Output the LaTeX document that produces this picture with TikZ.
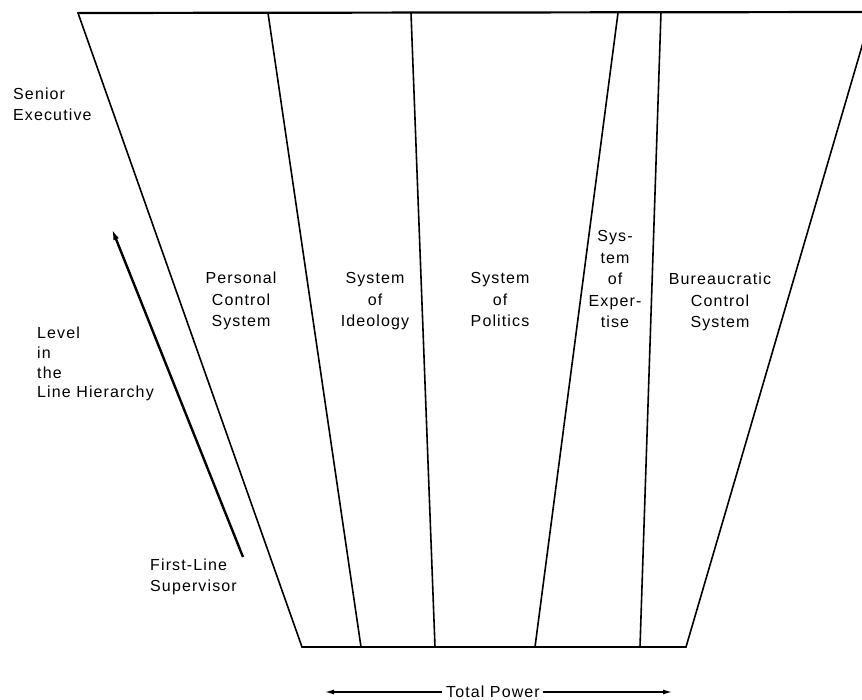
\documentclass[tikz,border=0pt]{standalone}
\usepackage{fontspec}
\setmainfont{Liberation Sans}[LetterSpace=7]
\usetikzlibrary{arrows.meta}
\begin{document}
\begin{tikzpicture}[x=1pt,y=-1pt,
  every node/.style={inner sep=0pt, font=\fontsize{16}{21.5}\selectfont},
  lblc/.style={align=center, anchor=base},
  lbll/.style={align=left, anchor=base west},
  edge/.style={line width=1.6pt, line join=miter, line cap=round},
  bigarrow/.style={line width=2.4pt, -{Latex[length=11pt,width=6pt]}},
  pwrarrow/.style={line width=1.8pt, -{Latex[length=10pt,width=5pt]}}]
\useasboundingbox (0,0) rectangle (862,700);
% corners of the trapezoid
\coordinate (tl) at (78,13);
\coordinate (tr) at (872,12);
\coordinate (bl) at (302,647);
\coordinate (br) at (686,647);
% dividers
\coordinate (d1t) at (268,13);  \coordinate (d1b) at (361,647);
\coordinate (d2t) at (411,13);  \coordinate (d2b) at (435,647);
\coordinate (d3t) at (618,13);  \coordinate (d3b) at (535,647);
\coordinate (d4t) at (661,12);  \coordinate (d4b) at (640,647);
\draw[edge, line width=2.2pt] (tl) -- (tr);
\draw[edge] (tl) -- (bl) -- (br) -- (tr);
\draw[edge] (d1t) -- (d1b);
\draw[edge] (d2t) -- (d2b);
\draw[edge] (d3t) -- (d3b);
\draw[edge] (d4t) -- (d4b);
% labels (anchor base = baseline of the last line)
\node[lbll] (se) at (13,121) {Senior\\Executive};
\node[lblc] (pcs) at (241,327) {Personal\\Control\\System};
\node[lblc] (ide) at (375,327) {System\\of\\Ideology};
\node[lblc] (pol) at (500,327) {System\\of\\Politics};
\node[lblc] (exp) at (615,328) {Sys-\\tem\\of\\Exper-\\tise};
\node[lblc] (bcs) at (720,328) {Bureaucratic\\Control\\System};
\node[lbll, font=\fontsize{16}{19.7}\selectfont] (lvl) at (37,398) {Level\\in\\the\\Line Hierarchy};
\node[lbll, font=\fontsize{16}{21}\selectfont] (fls) at (150,591) {First-Line\\Supervisor};
% level arrow
\coordinate (lvS) at (243,557);
\coordinate (lvE) at (112,229);
\draw[bigarrow] (lvS) -- (lvE);
% total power
\node[anchor=base] (tp) at (493,697) {Total Power};
\coordinate (tpL) at (324,692);
\coordinate (tpR) at (673,692);
\draw[pwrarrow] ([xshift=-4pt]tp.west |- 0,692) -- (tpL);
\draw[pwrarrow] ([xshift=3pt]tp.east |- 0,692) -- (tpR);
\end{tikzpicture}
\end{document}
